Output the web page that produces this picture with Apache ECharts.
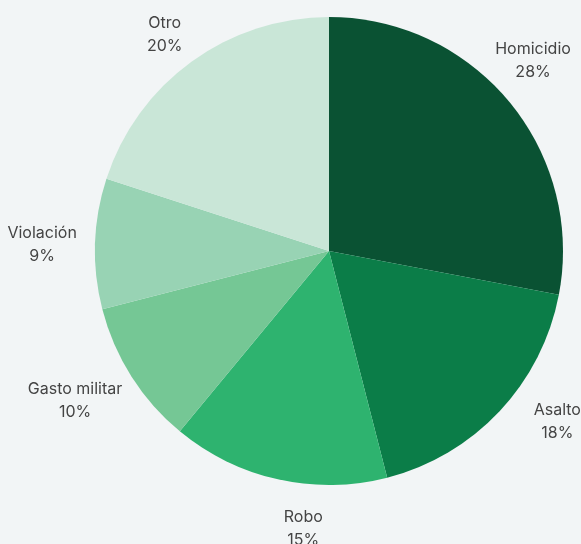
<!DOCTYPE html>
<html>
<head>
<meta charset="utf-8">
<script src="https://cdn.jsdelivr.net/npm/echarts@6/dist/echarts.min.js"></script>
<style>
  html, body { margin: 0; padding: 0; background: #f2f5f6; }
  #chart { width: 581px; height: 544px; }
</style>
</head>
<body>
<div id="chart"></div>
<script>
const categories = ['Homicidio', 'Asalto', 'Robo', 'Gasto militar', 'Violación', 'Otro'];
const values = [28, 18, 15, 10, 9, 20];
const colors = ['#0a5233', '#0b7d48', '#2eb36f', '#75c795', '#98d3b4', '#c9e6d7'];
// small nudges so labels sit where the reference puts them
const labelOffsets = [[-14, -10], [22, -23], [36, 2], [-15, -2], [-4, 3], [2, 13]];

const chart = echarts.init(document.getElementById('chart'));

const pieData = categories.map((name, i) => ({
  name,
  value: values[i],
  itemStyle: { color: colors[i] }
}));

const labelData = categories.map((name, i) => ({
  name,
  value: values[i],
  label: { offset: labelOffsets[i] }
}));

const option = {
  backgroundColor: '#f2f5f6',
  animation: false,
  series: [
    {
      type: 'pie',
      center: [329, 251],
      radius: 234,
      startAngle: 90,
      clockwise: true,
      silent: true,
      label: { show: false },
      labelLine: { show: false },
      data: pieData
    },
    {
      // invisible ring that only carries the labels
      type: 'pie',
      center: [329, 251],
      radius: [270, 290],
      startAngle: 90,
      clockwise: true,
      silent: true,
      itemStyle: { color: 'rgba(0,0,0,0)' },
      label: {
        show: true,
        position: 'inside',
        formatter: p => p.name + '\n' + p.value + '%',
        fontFamily: 'Inter',
        fontSize: 16,
        lineHeight: 23,
        color: '#444444',
        align: 'center'
      },
      labelLine: { show: false },
      data: labelData
    }
  ]
};

chart.setOption(option);
</script>
</body>
</html>
